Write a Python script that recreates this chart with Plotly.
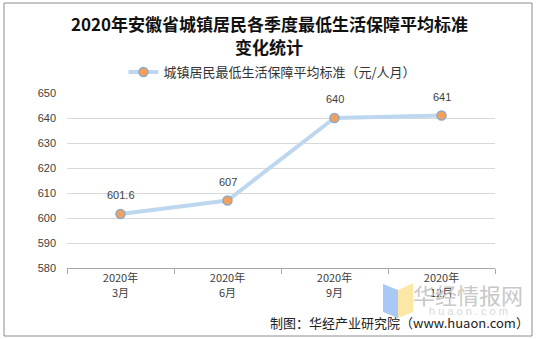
import plotly.graph_objects as go

categories = ["2020年<br>3月", "2020年<br>6月", "2020年<br>9月", "2020年<br>12月"]
values = [601.6, 607, 640, 641]
labels = ["601.6", "607", "640", "641"]
series_name = "城镇居民最低生活保障平均标准（元/人月）"
title_lines = ["2020年安徽省城镇居民各季度最低生活保障平均标准", "变化统计"]
source_text = "制图：华经产业研究院（www.huaon.com）"

W, H = 538, 339
L, R, T, B = 67, 495, 93, 268

def px(x):
    return (x - L) / (R - L)

def py(y):
    return (B - y) / (B - T)

fig = go.Figure()
fig.add_trace(go.Scatter(
    x=categories, y=values, name=series_name,
    mode="lines+markers",
    line=dict(color="#BDD7EE", width=4),
    marker=dict(color="#F4A05A", size=9, line=dict(color="#8EA9C8", width=1.5)),
    cliponaxis=False,
))

shapes = [
    dict(type="rect", xref="paper", yref="paper",
         x0=px(4), x1=px(532), y0=py(336), y1=py(3),
         line=dict(color="#8C8C8C", width=1), fillcolor="rgba(0,0,0,0)", layer="below"),
    dict(type="path", xref="paper", yref="paper",
         path=f"M {px(383)} {py(284)} L {px(398)} {py(290)} L {px(398)} {py(318)} L {px(383)} {py(312)} Z",
         line=dict(width=0), fillcolor="#A9C8F5"),
    dict(type="path", xref="paper", yref="paper",
         path=f"M {px(398)} {py(290)} L {px(413)} {py(283)} L {px(413)} {py(312)} L {px(398)} {py(318)} Z",
         line=dict(width=0), fillcolor="#FBE8A6"),
]

annotations = []
for c, v, t in zip(categories, values, labels):
    annotations.append(dict(x=c, y=v, text=t, showarrow=False, yshift=19,
                            font=dict(family="Liberation Sans, Arial", size=11, color="#404040")))
for i, line in enumerate(title_lines):
    annotations.append(dict(text=f"<b>{line}</b>", xref="paper", yref="paper",
                            x=px(269), y=py(23 + 23 * i), showarrow=False,
                            xanchor="center", yanchor="middle",
                            font=dict(family="Noto Sans CJK SC", size=17, color="#111111")))
annotations += [
    dict(text="华经情报网", xref="paper", yref="paper", x=px(468), y=py(294),
         showarrow=False, font=dict(family="Noto Sans CJK SC", size=22, color="#C8C8C8"),
         xanchor="center", yanchor="middle"),
    dict(text="h u a o n . c o m", xref="paper", yref="paper", x=px(468), y=py(311),
         showarrow=False, font=dict(family="Liberation Sans, Arial", size=11, color="#D8D8D8"),
         xanchor="center", yanchor="middle"),
    dict(text=source_text, xref="paper", yref="paper", x=px(531), y=py(322),
         showarrow=False, font=dict(family="Noto Sans CJK SC", size=13, color="#222222"),
         xanchor="right", yanchor="middle"),
]

fig.update_layout(
    width=W, height=H,
    margin=dict(l=L, r=W - R, t=T, b=H - B),
    paper_bgcolor="white", plot_bgcolor="white",
    legend=dict(orientation="h", x=0.48, xanchor="center", y=py(72), yanchor="middle",
                font=dict(family="Noto Sans CJK SC", size=13, color="#333333"),
                bgcolor="rgba(0,0,0,0)", itemwidth=30),
    showlegend=True,
    shapes=shapes,
    annotations=annotations,
    xaxis=dict(type="category", showgrid=False, showline=True, linecolor="#A6A6A6",
               ticks="outside", ticklen=5, tickcolor="#A6A6A6", tickson="boundaries",
               tickfont=dict(family="Noto Sans CJK SC", size=11, color="#404040"),
               range=[-0.5, 3.5]),
    yaxis=dict(range=[580, 650], dtick=10, showgrid=True, gridcolor="#D9D9D9",
               zeroline=False, showline=False, ticks="",
               tickfont=dict(family="Liberation Sans, Arial", size=11, color="#404040"),
               ticklabelstandoff=10),
)

fig.write_html("out.html")
